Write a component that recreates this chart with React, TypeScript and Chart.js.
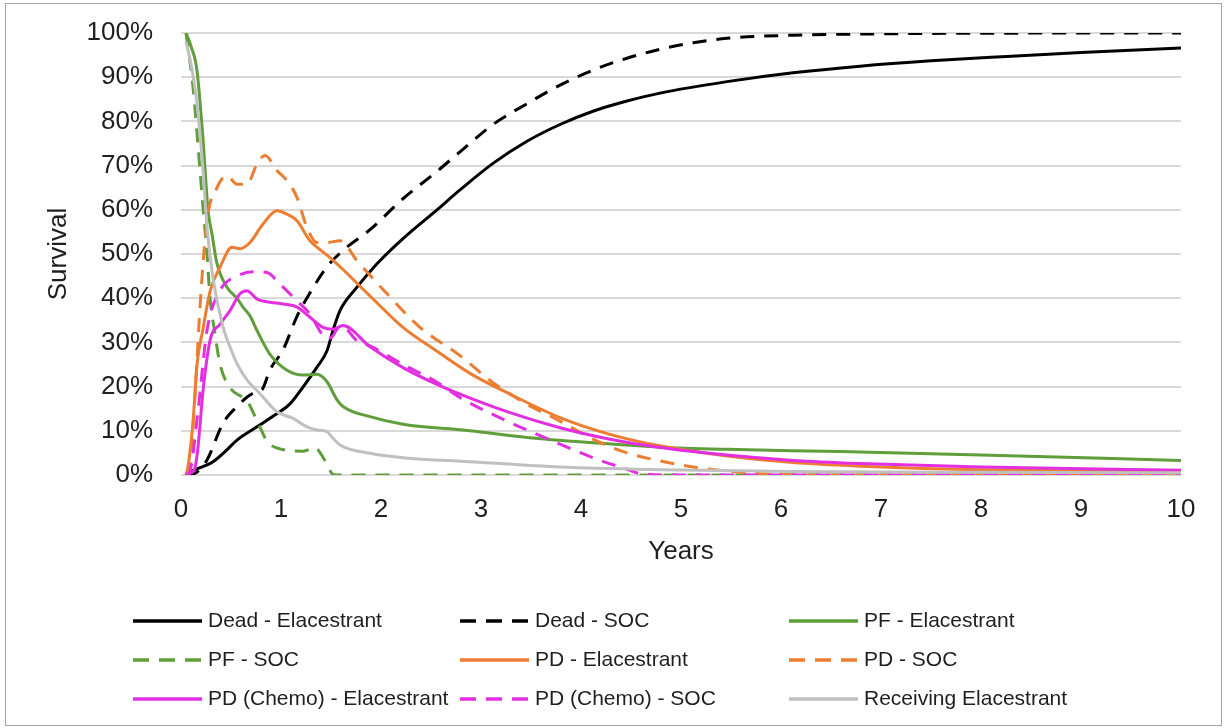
import React, { useEffect, useRef } from "react";
import { Chart, registerables } from "chart.js";

Chart.register(...registerables);

// ---------- DATA (years, % of patients) ----------
const seriesLabels = [
  "Dead - Elacestrant",
  "Dead - SOC",
  "PF - Elacestrant",
  "PF - SOC",
  "PD - Elacestrant",
  "PD - SOC",
  "PD (Chemo) - Elacestrant",
  "PD (Chemo) - SOC",
  "Receiving Elacestrant",
];

const xTickLabels = ["0", "1", "2", "3", "4", "5", "6", "7", "8", "9", "10"];
const yTickLabels = ["0%", "10%", "20%", "30%", "40%", "50%", "60%", "70%", "80%", "90%", "100%"];

const deadElaX = [0.05, 0.1, 0.22, 0.32, 0.45, 0.56, 0.76, 0.96, 1.09, 1.22, 1.36, 1.46, 1.52, 1.59, 1.76, 1.96, 2.22, 2.56, 2.79, 3.12, 3.46, 3.79, 4.12, 4.46, 4.79, 5.46, 6.12, 6.79, 7.5, 8.26, 9, 10];
const deadElaY = [0, 0.8, 1.9, 3.0, 5.5, 7.9, 10.9, 13.9, 16.1, 19.9, 24.4, 28.1, 32.7, 37.2, 42.5, 47.8, 53.5, 60.0, 64.5, 70.5, 75.5, 79.3, 82.3, 84.6, 86.4, 89.0, 91.0, 92.5, 93.7, 94.7, 95.6, 96.6];

const deadSocX = [0.05, 0.15, 0.26, 0.42, 0.56, 0.72, 0.81, 0.89, 1.02, 1.16, 1.29, 1.46, 1.62, 1.89, 2.22, 2.56, 2.79, 3.12, 3.46, 3.79, 4.12, 4.46, 4.79, 5.12, 5.46, 6.12, 7, 8, 10];
const deadSocY = [0, 0.5, 3.4, 11.7, 15.5, 18.5, 19.3, 23.8, 28.3, 35.9, 41.2, 47.1, 50.8, 55.5, 62.5, 68.7, 73.1, 79.3, 84.0, 88.2, 91.6, 94.3, 96.3, 97.8, 98.8, 99.5, 99.8, 99.95, 100];

const pfElaX = [0.05, 0.1, 0.16, 0.22, 0.27, 0.31, 0.36, 0.46, 0.56, 0.62, 0.69, 0.76, 0.89, 1.06, 1.22, 1.36, 1.46, 1.56, 1.62, 1.89, 2.22, 2.89, 3.46, 4.12, 4.79, 5.46, 6.59, 8, 10];
const pfElaY = [100, 97, 91.5, 76, 60, 54.5, 47.8, 42.5, 40, 38, 36, 32.7, 27.3, 23.7, 22.6, 22.8, 21.1, 17, 15.5, 13.2, 11.5, 10, 8.5, 7.3, 6.3, 5.8, 5.3, 4.5, 3.3];

const pfSocX = [0.05, 0.12, 0.19, 0.22, 0.26, 0.29, 0.34, 0.39, 0.49, 0.62, 0.66, 0.76, 0.86, 0.99, 1.22, 1.34, 1.42, 1.47, 1.51, 1.55, 2, 3, 5, 10];
const pfSocY = [100, 87.8, 69, 60.6, 50, 40.2, 32, 25.1, 19.8, 17.5, 16.8, 12.3, 7.7, 5.9, 5.4, 6.2, 4, 2, 0.3, 0, 0, 0, 0, 0];

const pdElaX = [0.05, 0.07, 0.12, 0.16, 0.22, 0.29, 0.39, 0.51, 0.59, 0.69, 0.82, 0.96, 1.06, 1.16, 1.29, 1.39, 1.49, 1.62, 1.89, 2.22, 2.56, 2.89, 3.29, 3.79, 4.29, 4.79, 5.46, 6.12, 6.79, 8, 10];
const pdElaY = [0, 1.9, 12, 25, 33, 41.5, 47, 51.5, 51.2, 52.6, 56.8, 59.8, 59, 57.5, 53, 51, 49.2, 46.5, 40.5, 33.4, 28, 23, 18.3, 13, 9.2, 6.6, 4.3, 2.8, 2, 1.2, 0.7];

const pdSocX = [0.05, 0.09, 0.14, 0.19, 0.26, 0.36, 0.46, 0.56, 0.66, 0.76, 0.84, 0.96, 1.06, 1.16, 1.26, 1.36, 1.46, 1.59, 1.76, 2.06, 2.39, 2.79, 3.12, 3.46, 3.79, 4.12, 4.46, 4.79, 5.12, 5.46, 5.79, 6.5, 10];
const pdSocY = [0, 2.6, 17.7, 38, 57.5, 65, 67.7, 65.8, 65.8, 70.4, 72.3, 68.9, 66.6, 62.8, 56, 52.6, 52.6, 53, 48.5, 41, 33.4, 27, 20.9, 16, 12.2, 8.1, 5, 3.2, 1.8, 0.9, 0.3, 0, 0];

const pdChemoElaX = [0.05, 0.1, 0.14, 0.17, 0.22, 0.29, 0.39, 0.49, 0.59, 0.66, 0.76, 0.89, 1.02, 1.16, 1.29, 1.42, 1.52, 1.62, 1.89, 2.22, 2.56, 2.79, 3.29, 3.79, 4.29, 4.79, 5.46, 6.12, 6.79, 8, 10];
const pdChemoElaY = [0, 0.5, 1.6, 6.3, 19, 30.4, 34.1, 37.2, 41, 41.7, 39.8, 39.1, 38.7, 38, 35.7, 33.4, 33, 33.8, 29, 24.3, 20.5, 18.3, 14.1, 10.7, 8.1, 6.2, 4.5, 3.3, 2.6, 1.8, 1.1];

const pdChemoSocX = [0.05, 0.09, 0.17, 0.26, 0.39, 0.56, 0.72, 0.86, 0.99, 1.16, 1.29, 1.41, 1.47, 1.52, 1.56, 1.62, 1.76, 1.89, 2.22, 2.56, 2.79, 3.29, 3.79, 4.12, 4.46, 4.62, 5, 10];
const pdChemoSocY = [0, 0.9, 14.5, 32.7, 41.7, 45, 46, 45.8, 43.2, 39.4, 36.4, 31.9, 30.8, 31.5, 33, 33.4, 30.4, 29.2, 25, 21, 17.5, 11.9, 7, 3.9, 1.3, 0.2, 0, 0];

const receivingElaX = [0.05, 0.1, 0.16, 0.22, 0.26, 0.32, 0.42, 0.49, 0.56, 0.66, 0.79, 0.96, 1.12, 1.26, 1.36, 1.46, 1.52, 1.59, 1.89, 2.22, 2.89, 3.79, 4.79, 6.12, 8, 10];
const receivingElaY = [98, 93, 84, 69, 56, 44.5, 33.5, 29, 25.2, 21.5, 18.4, 14.3, 12.8, 10.9, 10.2, 9.8, 8.3, 6.8, 4.9, 3.9, 3, 1.8, 1.2, 0.8, 0.6, 0.5];

const seriesX = [deadElaX, deadSocX, pfElaX, pfSocX, pdElaX, pdSocX, pdChemoElaX, pdChemoSocX, receivingElaX];
const seriesY = [deadElaY, deadSocY, pfElaY, pfSocY, pdElaY, pdSocY, pdChemoElaY, pdChemoSocY, receivingElaY];

// ---------- STYLES ----------
const seriesColors = ["#000000", "#000000", "#5f9e3a", "#5f9e3a", "#ed7d31", "#ed7d31", "#e22fe0", "#e22fe0", "#c0c0c0"];
const seriesDashed = [false, true, false, true, false, true, false, true, false];

const FONT = '"Liberation Sans", Arial, sans-serif';
const TEXT = "#1f1f1f";
const CHART_DASH = [14, 10];
const LEGEND_DASH = [16, 10];
const LEGEND_COL_X = [127, 454, 783];
const LEGEND_ROW_Y = [617, 656, 695];
const LEGEND_LINE = 69;

const legendPlugin = {
  id: "gridLegend",
  afterDraw(chart: any) {
    const ctx = chart.ctx as CanvasRenderingContext2D;
    ctx.save();
    ctx.font = `21px ${FONT}`;
    ctx.textBaseline = "middle";
    ctx.textAlign = "left";
    seriesLabels.forEach((label, i) => {
      const x = LEGEND_COL_X[i % 3];
      const y = LEGEND_ROW_Y[Math.floor(i / 3)];
      ctx.strokeStyle = seriesColors[i];
      ctx.lineWidth = 3.5;
      ctx.lineCap = "butt";
      ctx.setLineDash(seriesDashed[i] ? LEGEND_DASH : []);
      ctx.beginPath();
      ctx.moveTo(x, y);
      ctx.lineTo(x + LEGEND_LINE, y);
      ctx.stroke();
      ctx.setLineDash([]);
      ctx.fillStyle = TEXT;
      ctx.fillText(label, x + LEGEND_LINE + 6, y);
    });
    ctx.restore();
  },
};

export default function App() {
  const canvasRef = useRef<HTMLCanvasElement | null>(null);

  useEffect(() => {
    document.body.style.margin = "0";
    const canvas = canvasRef.current;
    if (!canvas) return;
    const n = seriesLabels.length;
    const datasets = seriesLabels.map((label, i) => ({
      label,
      data: seriesX[i].map((x, j) => ({ x, y: seriesY[i][j] })),
      borderColor: seriesColors[i],
      backgroundColor: seriesColors[i],
      borderWidth: 3,
      borderDash: seriesDashed[i] ? CHART_DASH : [],
      pointRadius: 0,
      pointHoverRadius: 0,
      fill: false,
      cubicInterpolationMode: "monotone" as const,
      order: n - i,
    }));

    const chart = new Chart(canvas, {
      type: "line",
      data: { datasets },
      plugins: [legendPlugin],
      options: {
        animation: false,
        responsive: false,
        maintainAspectRatio: false,
        layout: { padding: { left: 0, right: 40, top: 29, bottom: 150 } },
        plugins: {
          legend: { display: false },
          tooltip: { enabled: false },
        },
        scales: {
          x: {
            type: "linear",
            min: 0,
            max: 10,
            afterFit: (s: any) => {
              s.height = 100;
            },
            grid: { display: false, drawTicks: false },
            border: { display: false },
            ticks: {
              stepSize: 1,
              padding: 19,
              color: TEXT,
              font: { family: FONT, size: 26 },
              maxRotation: 0,
              callback: (v: any) => xTickLabels[Math.round(Number(v))] ?? "",
            },
            title: {
              display: true,
              text: "Years",
              color: TEXT,
              font: { family: FONT, size: 26 },
              padding: { top: 0, bottom: 8 },
            },
          },
          y: {
            min: 0,
            max: 100,
            afterFit: (s: any) => {
              s.width = 175;
            },
            grid: {
              color: "#d9d9d9",
              lineWidth: 2,
              drawTicks: true,
              tickLength: 24,
              tickColor: "rgba(0,0,0,0)",
            },
            border: { display: false },
            ticks: {
              stepSize: 10,
              padding: 4,
              color: TEXT,
              font: { family: FONT, size: 26 },
              callback: (v: any) => yTickLabels[Math.round(Number(v) / 10)] ?? "",
            },
            title: {
              display: true,
              text: "Survival",
              color: TEXT,
              font: { family: FONT, size: 26 },
              padding: { top: 37, bottom: 0 },
            },
          },
        },
      },
    });
    return () => chart.destroy();
  }, []);

  return (
    <div
      style={{
        position: "absolute",
        left: 5,
        top: 3,
        width: 1217,
        height: 723,
        border: "1px solid #a6a6a6",
        boxSizing: "border-box",
        background: "#fff",
      }}
    >
      <canvas ref={canvasRef} width={1215} height={721} style={{ display: "block" }} />
    </div>
  );
}
